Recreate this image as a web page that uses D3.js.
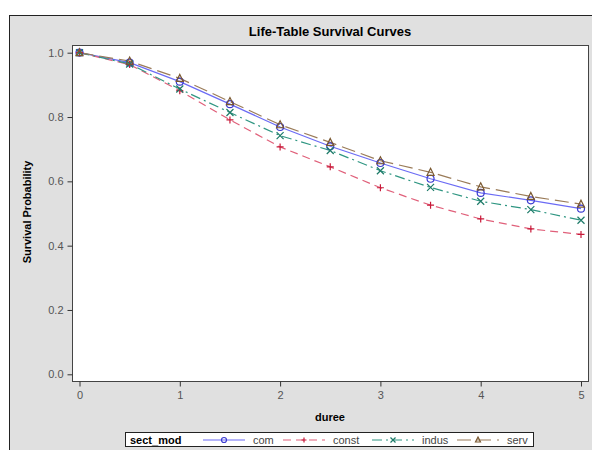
<!DOCTYPE html>
<html>
<head>
<meta charset="utf-8">
<script src="https://cdn.jsdelivr.net/npm/d3@7"></script>
<style>
  html, body { margin: 0; padding: 0; background: #fff; }
  svg { display: block; font-family: "Liberation Sans", Arial, sans-serif; }
</style>
</head>
<body>
<svg id="chart" width="592" height="450"></svg>
<script>
// life-table estimates
const times = [0, 0.5, 1, 1.5, 2, 2.5, 3, 3.5, 4, 4.5, 5];
const com   = [1.0, 0.969, 0.910, 0.840, 0.769, 0.709, 0.657, 0.608, 0.564, 0.541, 0.515];
const constr = [1.0, 0.963, 0.882, 0.791, 0.707, 0.645, 0.580, 0.526, 0.483, 0.452, 0.435];
const indus = [1.0, 0.965, 0.887, 0.814, 0.742, 0.696, 0.633, 0.581, 0.538, 0.512, 0.479];
const serv  = [1.0, 0.974, 0.920, 0.848, 0.776, 0.721, 0.664, 0.628, 0.583, 0.553, 0.529];
const groups = ['com', 'const', 'indus', 'serv'];
const xTicks = [0, 1, 2, 3, 4, 5];
const yTicks = [0, 0.2, 0.4, 0.6, 0.8, 1.0];

const series = [
  {name: 'com',   values: com,    line: '#6b6bf5', mark: '#3b3bd0', dash: null,        shape: 'circle'},
  {name: 'const', values: constr, line: '#e0607a', mark: '#c81a3a', dash: '8,5',       shape: 'plus'},
  {name: 'indus', values: indus,  line: '#2f9682', mark: '#1d7a68', dash: '10,4,2,4',  shape: 'x'},
  {name: 'serv',  values: serv,   line: '#9a7b58', mark: '#7a5830', dash: '14,6',      shape: 'triangle'}
];

const svg = d3.select('#chart');

// background panel
svg.append('rect')
  .attr('x', 9.5).attr('y', 15.5)
  .attr('width', 620).attr('height', 460)
  .attr('fill', '#e0e0e0')
  .attr('stroke', '#222').attr('stroke-width', 1);

const frame = {left: 72, top: 45, right: 588, bottom: 381};

svg.append('rect')
  .attr('x', frame.left + 0.5).attr('y', frame.top + 0.5)
  .attr('width', frame.right - frame.left).attr('height', frame.bottom - frame.top)
  .attr('fill', '#fff')
  .attr('stroke', '#444').attr('stroke-width', 1);

const x = d3.scaleLinear().domain([0, 5]).range([79.5, 581]);
const y = d3.scaleLinear().domain([0, 1]).range([374.3, 52.7]);

// axes
const xAxis = svg.append('g')
  .attr('transform', `translate(0,${frame.bottom + 0.5})`)
  .call(d3.axisBottom(x).tickValues(xTicks).tickFormat(d3.format('d')).tickSize(5).tickPadding(5));
const yAxis = svg.append('g')
  .attr('transform', `translate(${frame.left + 0.5},0)`)
  .call(d3.axisLeft(y).tickValues(yTicks).tickFormat(d3.format('.1f')).tickSize(5).tickPadding(4));

[xAxis, yAxis].forEach(g => {
  g.select('.domain').remove();
  g.selectAll('line').attr('stroke', '#333');
  g.selectAll('text')
    .attr('fill', '#555')
    .style('font-size', '11px')
    .style('font-family', '"Liberation Sans", Arial, sans-serif');
});

// titles
svg.append('text')
  .attr('x', 330).attr('y', 36)
  .attr('text-anchor', 'middle')
  .style('font-size', '13px').style('font-weight', 'bold')
  .text('Life-Table Survival Curves');

svg.append('text')
  .attr('x', 330).attr('y', 421)
  .attr('text-anchor', 'middle')
  .style('font-size', '11px').style('font-weight', 'bold')
  .text('duree');

svg.append('text')
  .attr('transform', 'translate(31,212) rotate(-90)')
  .attr('text-anchor', 'middle')
  .style('font-size', '11px').style('font-weight', 'bold')
  .text('Survival Probability');

// markers
function drawMarker(g, shape, color, cx, cy, r = 3.5) {
  if (shape === 'circle') {
    g.append('circle').attr('cx', cx).attr('cy', cy).attr('r', r)
      .attr('fill', 'none').attr('stroke', color).attr('stroke-width', 1.2);
  } else if (shape === 'plus') {
    g.append('path').attr('d', `M${cx - r},${cy}H${cx + r}M${cx},${cy - r}V${cy + r}`)
      .attr('stroke', color).attr('stroke-width', 1.2);
  } else if (shape === 'x') {
    g.append('path').attr('d', `M${cx - r},${cy - r}L${cx + r},${cy + r}M${cx - r},${cy + r}L${cx + r},${cy - r}`)
      .attr('stroke', color).attr('stroke-width', 1.2);
  } else {
    g.append('path').attr('d', `M${cx},${cy - r - 0.5}L${cx + r},${cy + r - 0.5}L${cx - r},${cy + r - 0.5}Z`)
      .attr('fill', 'none').attr('stroke', color).attr('stroke-width', 1.2);
  }
}

const line = d3.line()
  .x((d, i) => x(times[i]))
  .y(d => y(d));

series.forEach(s => {
  svg.append('path')
    .datum(s.values)
    .attr('d', line)
    .attr('fill', 'none')
    .attr('stroke', s.line)
    .attr('stroke-width', 1.2)
    .attr('stroke-dasharray', s.dash);
});
series.forEach(s => {
  const g = svg.append('g');
  s.values.forEach((v, i) => drawMarker(g, s.shape, s.mark, x(times[i]), y(v)));
});

// legend
const legend = svg.append('g');
legend.append('rect')
  .attr('x', 125.5).attr('y', 432.5)
  .attr('width', 408).attr('height', 14)
  .attr('fill', '#fff').attr('stroke', '#222');
legend.append('text')
  .attr('x', 130).attr('y', 444)
  .style('font-size', '11px').style('font-weight', 'bold')
  .text('sect_mod');

const legendX = [203, 283, 372, 457];
series.forEach((s, i) => {
  const x0 = legendX[i], ly = 440;
  legend.append('line')
    .attr('x1', x0).attr('x2', x0 + 42)
    .attr('y1', ly).attr('y2', ly)
    .attr('stroke', s.line).attr('stroke-width', 1.2)
    .attr('stroke-dasharray', s.dash);
  drawMarker(legend, s.shape, s.mark, x0 + 21, ly, 2.5);
  legend.append('text')
    .attr('x', x0 + 50).attr('y', 444)
    .attr('fill', '#444')
    .style('font-size', '11px')
    .text(groups[i]);
});
</script>
</body>
</html>
